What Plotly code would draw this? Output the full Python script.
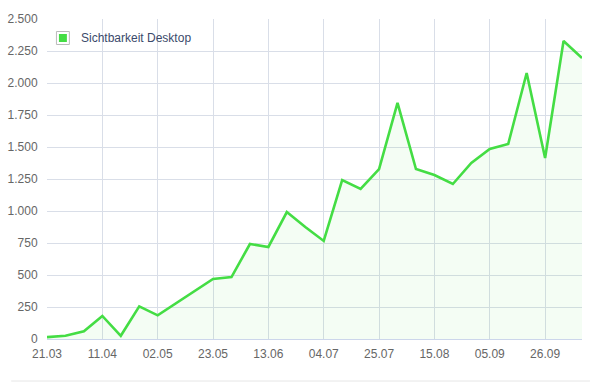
import plotly.graph_objects as go
import pandas as pd

start_date = "2016-03-21"
n_weeks = 30
dates = pd.date_range(start_date, periods=n_weeks, freq="7D")
values = [15, 25, 60, 180, 25, 255, 185, 280, 375, 469, 484, 742, 719, 992, 875,
          766, 1242, 1172, 1328, 1844, 1328, 1281, 1211, 1375, 1484, 1523, 2078, 1414,
          2328, 2195]
series_name = "Sichtbarkeit Desktop"

green = "#44dd44"
grid = "#d9dee8"
font_col = "#666666"
fam = "Liberation Sans, Arial, sans-serif"

fig = go.Figure()
fig.add_trace(go.Scatter(
    x=dates, y=values, mode="lines", name=series_name,
    line=dict(color=green, width=2.6),
    fill="tozeroy", fillcolor="rgba(68,221,68,0.06)",
    showlegend=False, hoverinfo="x+y",
))

W, H = 590, 382
ml, mr, mt, mb = 44, 8, 19, 43
pw, ph = W - ml - mr, H - mt - mb

def px(x):
    return (x - ml) / pw

def py(y):
    return (H - mb - y) / ph

shapes = [
    # legend checkbox
    dict(type="rect", xref="paper", yref="paper", x0=px(53.5), x1=px(66.5), y0=py(44.5), y1=py(31.5),
         line=dict(color="#bbbbbb", width=1), fillcolor="white", layer="above"),
    dict(type="rect", xref="paper", yref="paper", x0=px(56), x1=px(64), y0=py(42), y1=py(34),
         line=dict(width=0), fillcolor=green, layer="above"),
    # bottom separator line
    dict(type="line", xref="paper", yref="paper", x0=px(8), x1=px(590), y0=py(381), y1=py(381),
         line=dict(color="#e6e6e6", width=1)),
]

fig.update_layout(
    width=W, height=H,
    margin=dict(l=ml, r=mr, t=mt, b=mb),
    paper_bgcolor="white", plot_bgcolor="white",
    separators=",.",
    font=dict(family=fam, size=12, color=font_col),
    shapes=shapes,
    annotations=[dict(xref="paper", yref="paper", x=px(76), y=py(37.5), xanchor="left", yanchor="middle",
                      text=series_name, showarrow=False,
                      font=dict(family=fam, size=12, color="#3b4a6b"))],
    xaxis=dict(
        type="date", range=[dates[0], dates[-1]],
        tick0=start_date, dtick=21 * 86400000, tickformat="%d.%m",
        showgrid=True, gridcolor=grid, gridwidth=1,
        showline=True, linecolor="#ccd6eb", linewidth=1,
        ticks="outside", ticklen=4, tickcolor="rgba(0,0,0,0)",
        zeroline=False, fixedrange=True,
    ),
    yaxis=dict(
        range=[0, 2500], dtick=250, tick0=0, tickformat=",d",
        showgrid=True, gridcolor=grid, gridwidth=1,
        ticks="outside", ticklen=6, tickcolor="rgba(0,0,0,0)",
        zeroline=False, showline=False, fixedrange=True,
    ),
)

fig.write_html("out.html")
